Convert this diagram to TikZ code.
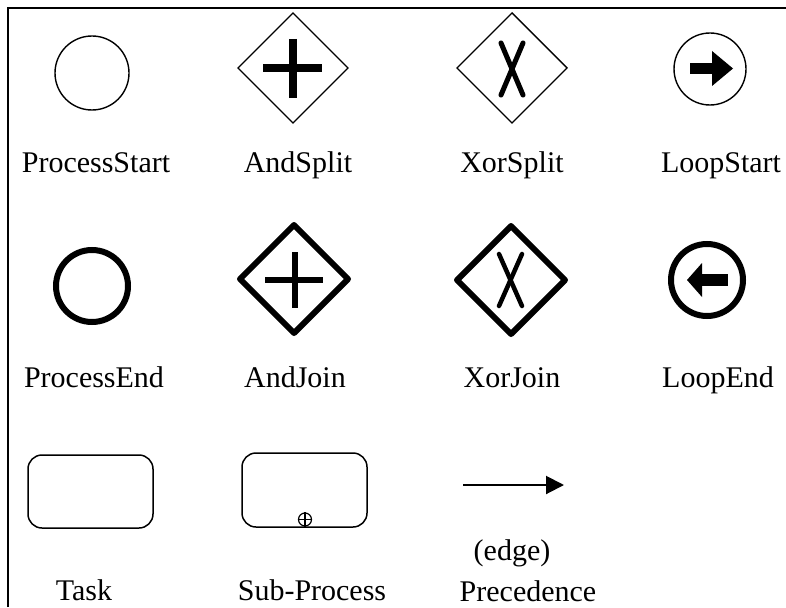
\documentclass[tikz,border=0pt]{standalone}
\usepackage{fontspec}
\setmainfont{Liberation Serif}
\usetikzlibrary{arrows.meta,calc}
\begin{document}
\begin{tikzpicture}[x=1pt,y=-1pt,
  lbl/.style={anchor=base,inner sep=0pt,font=\fontsize{30}{34}\selectfont},
  thin/.style={line width=1.4pt},
  thick/.style={line width=6pt},
  gatethin/.style={draw,thin,line join=miter},
  gatethick/.style={draw,line width=6pt,line join=round},
  bar/.style={line width=8pt},
  xbar/.style={line width=5pt,line cap=round},
  taskbox/.style={draw,line width=1.5pt,rounded corners=14pt}]
\useasboundingbox (0,0) rectangle (786,607);
% frame
\draw[line width=1.6pt] (8,607) -- (8,8) -- (786,8);
% ProcessStart
\node[circle,draw,thin,minimum size=74pt,inner sep=0pt] (ps) at (92,73) {};
\node[lbl] (psl) at (96,172) {ProcessStart};
% AndSplit
\coordinate (as) at (293,68);
\draw[gatethin] ($(as)+(0,-55)$) -- ($(as)+(55,0)$) -- ($(as)+(0,55)$) -- ($(as)+(-55,0)$) -- cycle;
\draw[bar] (293,39) -- (293,98);
\draw[bar] (263,68) -- (322,68);
\node[lbl] (asl) at (298,172) {AndSplit};
% XorSplit
\coordinate (xs) at (512,68);
\draw[gatethin] ($(xs)+(0,-55)$) -- ($(xs)+(55,0)$) -- ($(xs)+(0,55)$) -- ($(xs)+(-55,0)$) -- cycle;
\draw[xbar] (501,43) -- (523,95);
\draw[xbar] (523,43) -- (501,95);
\node[lbl] (xsl) at (512,172) {XorSplit};
% LoopStart
\node[circle,draw,thin,minimum size=72pt,inner sep=0pt] (ls) at (710,69) {};
\fill (690,63) rectangle (713,74);
\fill (712,51) -- (733,68.5) -- (712,86) -- cycle;
\node[lbl] (lsl) at (721,172) {LoopStart};
% ProcessEnd
\node[circle,draw,thick,minimum size=72pt,inner sep=0pt] (pe) at (92,286) {};
\node[lbl] (pel) at (94,387) {ProcessEnd};
% AndJoin
\coordinate (aj) at (294,279);
\draw[gatethick] ($(aj)+(0,-54)$) -- ($(aj)+(54,0)$) -- ($(aj)+(0,54)$) -- ($(aj)+(-54,0)$) -- cycle;
\draw[line width=5.5pt] (295,252) -- (295,308);
\draw[line width=5.5pt] (265,280) -- (323,280);
\node[lbl] (ajl) at (295,387) {AndJoin};
% XorJoin
\coordinate (xj) at (511,280);
\draw[gatethick] ($(xj)+(0,-54)$) -- ($(xj)+(54,0)$) -- ($(xj)+(0,54)$) -- ($(xj)+(-54,0)$) -- cycle;
\draw[line width=4.5pt,line cap=round] (499,254) -- (522,306);
\draw[line width=4.5pt,line cap=round] (522,254) -- (499,306);
\node[lbl] (xjl) at (512,387) {XorJoin};
% LoopEnd
\node[circle,draw,thick,minimum size=72pt,inner sep=0pt] (le) at (707,280) {};
\fill (700,274) rectangle (728,286);
\fill (702,263) -- (687,280) -- (702,297) -- cycle;
\node[lbl] (lel) at (718,387) {LoopEnd};
% Task
\node[taskbox,minimum width=125pt,minimum height=73pt] (task) at (90.5,491.5) {};
\node[lbl] (taskl) at (84,600) {Task};
% Sub-Process
\node[taskbox,minimum width=125pt,minimum height=74pt] (sp) at (304.5,490) {};
\node[circle,draw,line width=1.2pt,minimum size=13pt,inner sep=0pt] (spc) at (305,519.5) {};
\draw[line width=1.2pt] (spc.north) -- (spc.south) (spc.west) -- (spc.east);
\node[lbl] (spl) at (312,600) {Sub-Process};
% Precedence edge
\coordinate (e1) at (463,485);
\coordinate (e2) at (564,485);
\draw[line width=2pt,-{Triangle[length=18pt,width=18pt]}] (e1) -- (e2);
\node[lbl] (edl) at (512,560) {(edge)};
\node[lbl] (prl) at (528,601) {Precedence};
\end{tikzpicture}
\end{document}
